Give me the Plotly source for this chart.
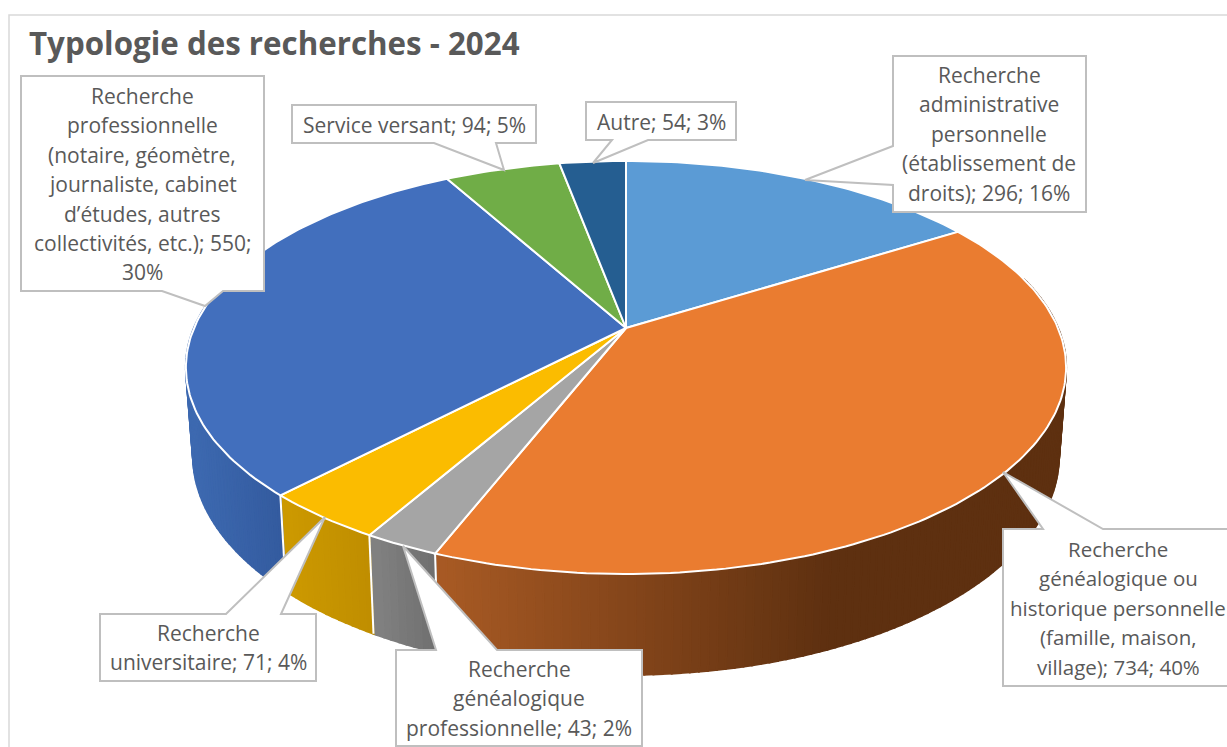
import numpy as np
import plotly.graph_objects as go

categories = [
    "Recherche administrative personnelle (établissement de droits)",
    "Recherche généalogique ou historique personnelle (famille, maison, village)",
    "Recherche généalogique professionnelle",
    "Recherche universitaire",
    "Recherche professionnelle (notaire, géomètre, journaliste, cabinet d’études, autres collectivités, etc.)",
    "Service versant",
    "Autre",
]
values = [296, 734, 43, 71, 550, 94, 54]
label_templates = [
    "Recherche\nadministrative\npersonnelle\n(établissement de\ndroits); {v}; {p}%",
    "Recherche\ngénéalogique ou\nhistorique personnelle\n(famille, maison,\nvillage); {v}; {p}%",
    "Recherche\ngénéalogique\nprofessionnelle; {v}; {p}%",
    "Recherche\nuniversitaire; {v}; {p}%",
    "Recherche\nprofessionnelle\n(notaire, géomètre,\njournaliste, cabinet\nd’études, autres\ncollectivités, etc.); {v};\n{p}%",
    "Service versant; {v}; {p}%",
    "Autre; {v}; {p}%",
]
title = "Typologie des recherches - 2024"

top_colors = ["#5B9BD5", "#EA7C30", "#A5A5A5", "#FBBC00", "#426FBD", "#70AD47", "#255E91"]
# wall shading per slice: x start, colour start, x end, colour end
wall_shades = [
    (900, "#5E3010", 1000, "#5E3010"),
    (437, "#A85A24", 830, "#5E3010"),
    (376, "#808080", 437, "#6E6E6E"),
    (285, "#CC9900", 376, "#BE8D00"),
    (190, "#3D69B0", 285, "#335A9E"),
    (0, "#426FBD", 1, "#426FBD"),
    (0, "#255E91", 1, "#255E91"),
]
# callout geometry in pixels: box left, top, right, bottom, pointer (base, base, tip), text centre x, first line y
callouts = [
    dict(box=(893, 56, 1086, 212), base=((893, 146), (893, 185)), tip=(805, 180), cx=989, y0=75),
    dict(box=(1003, 529, 1245, 686), base=((1043, 529), (1103, 529)), tip=(1003, 472), cx=1118, y0=549),
    dict(box=(396, 650, 642, 746), base=((436, 650), (497, 650)), tip=(403, 546), cx=519, y0=669),
    dict(box=(100, 614, 316, 681), base=((226, 614), (281, 614)), tip=(325, 517), cx=208, y0=633),
    dict(box=(21, 76, 264, 291), base=((162, 291), (223, 291)), tip=(205, 306), cx=142, y0=96),
    dict(box=(292, 105, 536, 143), base=((434, 143), (496, 143)), tip=(504, 170), cx=414, y0=125),
    dict(box=(586, 102, 736, 140), base=((612, 140), (648, 140)), tip=(593, 163), cx=661, y0=122),
]
LINE_GAP = 29.4
TEXT = "#595959"
BORDER = "#BFBFBF"
FONT = "Open Sans"


def top_rim(theta):
    # perspective view of the pie's top disc, theta in degrees clockwise from the top
    t = np.radians(theta)
    d = 1 + 0.191 * np.cos(t)
    return 626 + 432 * np.sin(t) / d, 328 - 199 * np.cos(t) / d


def bottom_rim(theta):
    t = np.radians(theta)
    d = 1 + 0.191 * np.cos(t)
    return 626 + 425 * np.sin(t) / d, 414 - 211 * np.cos(t) / d


def mix(shade, x):
    x0, c0, x1, c1 = shade
    f = min(max((x - x0) / (x1 - x0), 0), 1)
    a = [int(c0[i:i + 2], 16) for i in (1, 3, 5)]
    b = [int(c1[i:i + 2], 16) for i in (1, 3, 5)]
    return "rgb(%d,%d,%d)" % tuple(round(p + (q - p) * f) for p, q in zip(a, b))


total = sum(values)
edges = np.concatenate([[0], np.cumsum(values) / total * 360])

fig = go.Figure()

# side walls first, the top disc covers whatever is behind it
for i in range(len(values)):
    start, end = max(edges[i], 75), min(edges[i + 1], 285)
    if end <= start:
        continue
    steps = np.arange(start, end, 1.0)
    steps = np.append(steps, end)
    for a, b in zip(steps[:-1], steps[1:]):
        xt, yt = top_rim(np.array([a, b]))
        xb, yb = bottom_rim(np.array([b, a]))
        col = mix(wall_shades[i], (xt[0] + xt[1]) / 2)
        fig.add_trace(go.Scatter(
            x=list(xt) + list(xb) + [xt[0]], y=list(yt) + list(yb) + [yt[0]],
            mode="lines", fill="toself", fillcolor=col,
            line=dict(color=col, width=2), hoverinfo="skip", showlegend=False,
        ))

# white seams between wall segments
for e in edges[1:]:
    if 90 < e < 270:
        xt, yt = top_rim(e)
        xb, yb = bottom_rim(e)
        fig.add_trace(go.Scatter(
            x=[xt, xb], y=[yt, yb], mode="lines",
            line=dict(color="white", width=2), hoverinfo="skip", showlegend=False,
        ))

# top disc
for i, cat in enumerate(categories):
    th = np.linspace(edges[i], edges[i + 1], max(int(edges[i + 1] - edges[i]), 2) + 1)
    xs, ys = top_rim(th)
    fig.add_trace(go.Scatter(
        x=[626] + list(xs) + [626], y=[328] + list(ys) + [328],
        mode="lines", fill="toself", fillcolor=top_colors[i],
        line=dict(color="white", width=2), name=cat, showlegend=False,
        hovertemplate=f"{cat}<br>{values[i]}<extra></extra>",
    ))

shapes = [dict(type="rect", x0=9, y0=15, x1=1260, y1=780, xref="x", yref="y",
               line=dict(color="#D9D9D9", width=1.5), fillcolor="rgba(0,0,0,0)", layer="below")]
annotations = [dict(text=f"<b>{title}</b>", x=27, y=43, xref="x", yref="y", xanchor="left", yanchor="middle",
                    showarrow=False, font=dict(family=FONT, size=31.3, color=TEXT))]

for i, c in enumerate(callouts):
    l, t, r, b = c["box"]
    (bx0, by0), (bx1, by1) = c["base"]
    tx, ty = c["tip"]
    if by0 == t and by1 == t:
        path = f"M{l},{t} L{bx0},{t} L{tx},{ty} L{bx1},{t} L{r},{t} L{r},{b} L{l},{b} Z"
    elif by0 == b and by1 == b:
        path = f"M{l},{t} L{r},{t} L{r},{b} L{bx1},{b} L{tx},{ty} L{bx0},{b} L{l},{b} Z"
    else:
        path = f"M{l},{t} L{r},{t} L{r},{b} L{l},{b} L{l},{by1} L{tx},{ty} L{l},{by0} Z"
    shapes.append(dict(type="path", path=path, xref="x", yref="y", fillcolor="white",
                       line=dict(color=BORDER, width=2), layer="above"))
    pct = round(values[i] / total * 100)
    for n, line in enumerate(label_templates[i].format(v=values[i], p=pct).split("\n")):
        annotations.append(dict(text=line, x=c["cx"], y=c["y0"] + n * LINE_GAP, xref="x", yref="y",
                                xanchor="center", yanchor="middle", showarrow=False,
                                font=dict(family=FONT, size=21 if i != 1 else 20.5, color=TEXT)))

fig.update_layout(
    width=1227, height=747, margin=dict(l=0, r=0, t=0, b=0),
    paper_bgcolor="white", plot_bgcolor="white", showlegend=False,
    xaxis=dict(range=[0, 1227], visible=False, fixedrange=True),
    yaxis=dict(range=[747, 0], visible=False, fixedrange=True),
    shapes=shapes, annotations=annotations,
)
fig.write_html("out.html", config=dict(displayModeBar=False), post_script="document.body.style.margin='0';")
